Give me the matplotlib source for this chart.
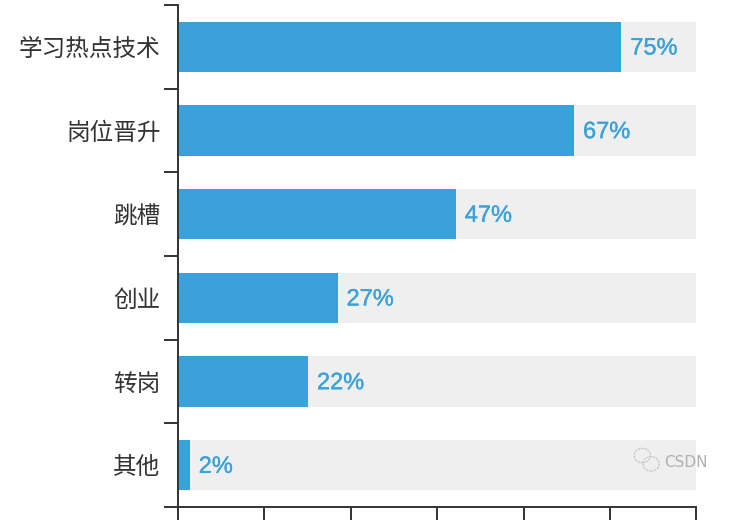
import numpy as np
import matplotlib
matplotlib.use("Agg")
import matplotlib.pyplot as plt
import matplotlib.patheffects as pe
from matplotlib.patches import Ellipse

plt.rcParams['font.family'] = ['Noto Sans CJK SC', 'DejaVu Sans']

categories = ['学习热点技术', '岗位晋升', '跳槽', '创业', '转岗', '其他']
values = [75, 67, 47, 27, 22, 2]
xmax = 87.7

bar_color = '#3aa1db'
bg_color = '#efefef'
axis_color = '#333333'

fig = plt.figure(figsize=(7.32, 5.2), dpi=100)
ax = fig.add_axes([0.2432, 0.025, 0.7083, 0.9655])

y = np.arange(len(categories))
ax.barh(y, [xmax] * len(y), height=0.6, color=bg_color, zorder=1)
ax.barh(y, values, height=0.6, color=bar_color, zorder=2)

for yi, v in zip(y, values):
    ax.text(v + 1.5, yi + 0.02, f'{v}%', va='center', ha='left',
            fontsize=17, color=bar_color, family=['Liberation Sans', 'DejaVu Sans'], zorder=3,
            path_effects=[pe.withStroke(linewidth=0.25, foreground=bar_color)])

ax.set_xlim(0, xmax)
ax.set_ylim(len(y) - 0.5, -0.5)

# category labels centred, ticks on band boundaries
ax.set_yticks(y)
ax.set_yticklabels(categories, fontsize=17, color=axis_color)
ax.tick_params(axis='y', which='major', length=0, pad=12.5)
ax.set_yticks(np.arange(len(y) + 1) - 0.5, minor=True)
ax.tick_params(axis='y', which='minor', length=10, width=1.4, color=axis_color)

ax.set_xticks(np.linspace(0, xmax, 7))
ax.set_xticklabels([])
ax.tick_params(axis='x', length=10, width=1.4, color=axis_color)

for side in ['top', 'right']:
    ax.spines[side].set_visible(False)
for side in ['left', 'bottom']:
    ax.spines[side].set_color(axis_color)
    ax.spines[side].set_linewidth(1.4)

# watermark
fig.text(0.967, 0.111, 'CSDN', ha='right', va='center', fontsize=11,
         color='#b0b0b0', family=['DejaVu Sans'])
fig.add_artist(Ellipse((0.8775, 0.124), 0.022, 0.028, transform=fig.transFigure,
                       fill=False, ec='#c0c0c0', lw=0.8, ls=(0, (2, 1))))
fig.add_artist(Ellipse((0.8895, 0.108), 0.022, 0.028, transform=fig.transFigure,
                       fill=False, ec='#c0c0c0', lw=0.8, ls=(0, (2, 1))))

fig.savefig('out.png', dpi=100)
